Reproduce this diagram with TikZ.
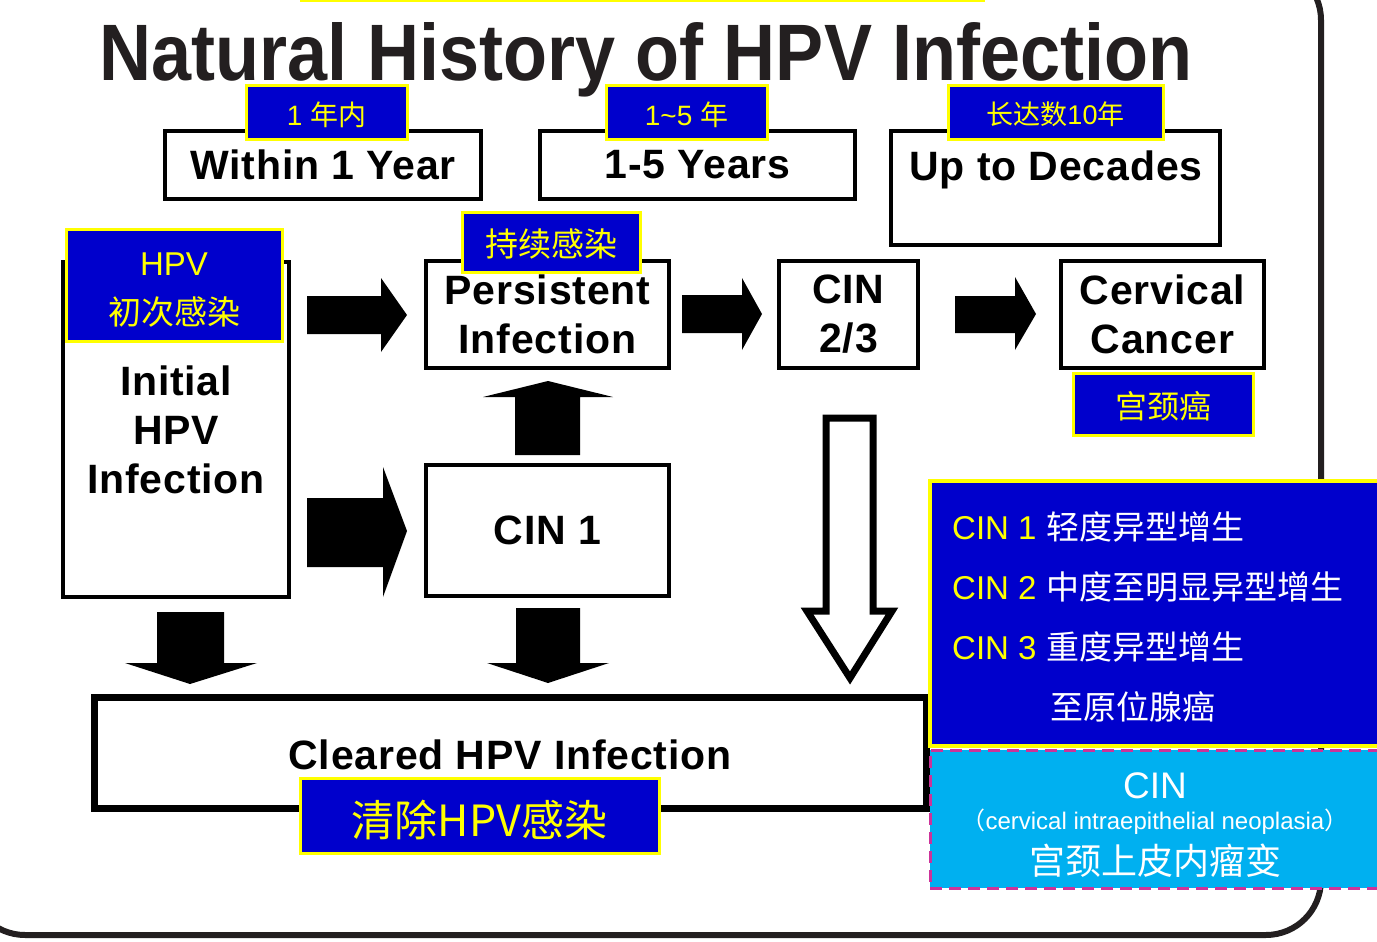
\documentclass[tikz,border=0pt]{standalone}
\usepackage{fontspec}
\usepackage{graphicx}
\setmainfont{Liberation Sans}
\newfontfamily\cjk{Noto Sans CJK SC}
\newfontfamily\bxfam[LetterSpace=2]{Liberation Sans}
\definecolor{hblue}{HTML}{0000CC}
\definecolor{hyel}{HTML}{FFFF00}
\definecolor{hcyan}{HTML}{00B0F0}
\definecolor{hmag}{HTML}{CC3399}
\definecolor{hframe}{HTML}{231F20}
\newcommand{\bxfont}{\bxfam\fontsize{41}{49}\selectfont\bfseries}
\begin{document}
\begin{tikzpicture}[x=1pt,y=-1pt,
  box/.style={draw=black, line width=4.5pt, fill=white, inner sep=0pt, align=center, font=\bxfont},
  lbl/.style={fill=hblue, draw=hyel, line width=3pt, inner sep=0pt},
  ltxt/.style={inner sep=0pt, text=hyel, align=center},
  blk/.style={fill=black},
  hollow/.style={draw=black, fill=white, line width=7pt, line join=miter},
  plain/.style={inner sep=0pt}]
\useasboundingbox (0,0) rectangle (1377,942);
\clip (0,0) rectangle (1377,942);
\fill[white] (0,0) rectangle (1377,942);
% outer frame
\draw[line width=6pt, hframe, rounded corners=55pt] (-30,-35) rectangle (1321,935);
\fill[hyel] (300,0) rectangle (985,2.5);
% title
\node[plain, anchor=base, text=hframe] (title) at (646,80) {\resizebox{1092pt}{58pt}{\bfseries Natural History of HPV Infection}};
% time boxes
\node[box, minimum width=316pt, minimum height=68pt] (y1) at (323,165) {Within 1 Year};
\node[box, minimum width=315pt, minimum height=68pt] (y2) at (697.5,165) {1-5 Years};
\node[box, minimum width=329pt, minimum height=114pt] (y3) at (1055.5,188) {};
\node[plain, anchor=base, font=\bxfont] (y3t) at (1056,180) {Up to Decades};
% stage boxes
\node[box, line width=4pt, minimum width=226pt, minimum height=335pt] (init) at (176,429.5) {Initial\\HPV\\Infection};
\node[box, minimum width=243pt, minimum height=107pt] (pers) at (547.5,314.5) {Persistent\\Infection};
\node[box, minimum width=243pt, minimum height=131pt] (cin1) at (547.5,530.5) {CIN 1};
\node[box, minimum width=139pt, minimum height=107pt] (cin23) at (848.5,314.5) {CIN\\2/3};
\node[box, minimum width=203pt, minimum height=107pt] (cc) at (1162.5,314.5) {Cervical\\Cancer};
\node[box, line width=7pt, minimum width=832pt, minimum height=111pt] (clr) at (510,752.5) {};
\node[plain, font=\bxfont] (clrt) at ([yshift=-2.5pt]clr.center) {Cleared HPV Infection};
% labels
\node[lbl, minimum width=161pt, minimum height=53pt] (l1) at (326.5,112.5) {};
\node[ltxt, font=\fontsize{28}{32}\selectfont] (l1t) at ([yshift=-2pt]l1.center) {1 {\cjk 年内}};
\node[lbl, minimum width=161pt, minimum height=53pt] (l2) at (686.5,112.5) {};
\node[ltxt, font=\fontsize{28}{32}\selectfont] (l2t) at ([yshift=-2pt]l2.center) {1\textasciitilde 5 {\cjk 年}};
\node[lbl, minimum width=215pt, minimum height=53pt] (l3) at (1055.5,112.5) {};
\node[ltxt, font=\fontsize{27}{32}\selectfont] (l3t) at ([yshift=-2pt]l3.center) {{\cjk 长达数}10{\cjk 年}};
\node[lbl, minimum width=216pt, minimum height=112pt] (l4) at (174,285) {};
\node[ltxt, font=\fontsize{33}{49}\selectfont] (l4t) at ([yshift=-5pt]l4.center) {HPV\\{\cjk 初次感染}};
\node[lbl, minimum width=178pt, minimum height=60pt] (l5) at (551,242) {};
\node[ltxt, font=\cjk\fontsize{33}{40}\selectfont] (l5t) at ([yshift=-2pt]l5.center) {持续感染};
\node[lbl, minimum width=180pt, minimum height=62pt] (l6) at (1163,404) {};
\node[ltxt, font=\cjk\fontsize{32}{40}\selectfont] (l6t) at ([yshift=-2pt]l6.center) {宫颈癌};
\node[lbl, minimum width=359pt, minimum height=75pt] (l7) at (479.5,815.5) {};
\node[ltxt, font=\cjk\fontsize{43}{50}\selectfont] (l7t) at ([yshift=-4pt]l7.center) {清除HPV感染};
% block arrows
\fill[blk] (307,296) -- (381,296) -- (381,278) -- (407,315) -- (381,352) -- (381,334) -- (307,334) -- cycle;
\fill[blk] (682,295) -- (742,295) -- (742,278) -- (762,314) -- (742,350) -- (742,333) -- (682,333) -- cycle;
\fill[blk] (955,296) -- (1015,296) -- (1015,277) -- (1036,314) -- (1015,350) -- (1015,333) -- (955,333) -- cycle;
\fill[blk] (307,498) -- (383,498) -- (383,467) -- (407,531) -- (383,597) -- (383,567) -- (307,567) -- cycle;
\fill[blk] (515,455) -- (515,397) -- (483,397) -- (548,381) -- (613,397) -- (580,397) -- (580,455) -- cycle;
\fill[blk] (157,612) -- (224,612) -- (224,663) -- (257,663) -- (190,684) -- (125,663) -- (157,663) -- cycle;
\fill[blk] (516,608) -- (580,608) -- (580,663) -- (609,663) -- (548,683) -- (487,663) -- (516,663) -- cycle;
\draw[hollow] (826,418) -- (873,418) -- (873,611) -- (892,611) -- (850,678) -- (807,611) -- (826,611) -- cycle;
% right panels
\node[draw=hyel, fill=hblue, line width=3.5pt, minimum width=460pt, minimum height=265pt, inner sep=0pt] (cinlist) at (1160,613.5) {};
\node[fill=hcyan, draw=hmag, line width=3pt, dash pattern=on 12pt off 7pt, minimum width=460pt, minimum height=138pt, inner sep=0pt] (cinbox) at (1160,819) {};
\begin{scope}[every node/.style={plain, anchor=base west}]
\node[text=hyel, font=\fontsize{33}{40}\selectfont] (c1a) at (952,539) {CIN 1};
\node[text=white, font=\cjk\fontsize{33}{40}\selectfont] (c1b) at (1046,539) {轻度异型增生};
\node[text=hyel, font=\fontsize{33}{40}\selectfont] (c2a) at (952,599) {CIN 2};
\node[text=white, font=\cjk\fontsize{33}{40}\selectfont] (c2b) at (1046,599) {中度至明显异型增生};
\node[text=hyel, font=\fontsize{33}{40}\selectfont] (c3a) at (952,659) {CIN 3};
\node[text=white, font=\cjk\fontsize{33}{40}\selectfont] (c3b) at (1046,659) {重度异型增生};
\node[text=white, font=\cjk\fontsize{33}{40}\selectfont] (c3c) at (1050,719) {至原位腺癌};
\end{scope}
\node[plain, anchor=base, text=white, font=\fontsize{37}{44}\selectfont] (cint) at (1155,798) {CIN};
\node[plain, anchor=base, text=white, font=\fontsize{24}{28}\selectfont] (cinf) at (1155,829) {{\cjk （}cervical intraepithelial neoplasia{\cjk ）}};
\node[plain, anchor=base, text=white, font=\cjk\fontsize{36}{42}\selectfont] (cinc) at (1155,874) {宫颈上皮内瘤变};
\end{tikzpicture}
\end{document}
